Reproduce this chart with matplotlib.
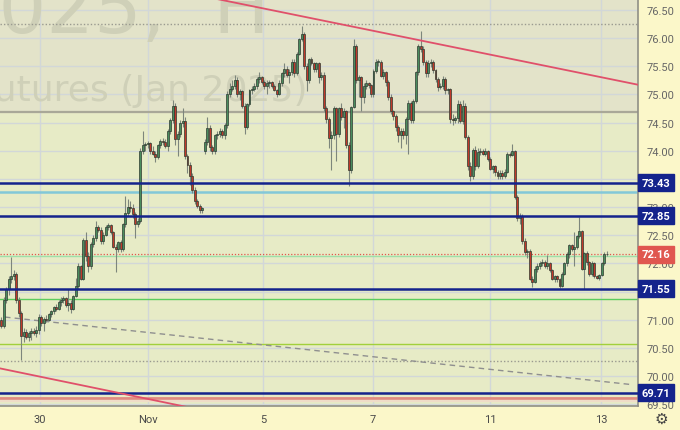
import matplotlib
matplotlib.use("Agg")
import matplotlib.pyplot as plt
import numpy as np

# ---------------- data ----------------
open_ = [71.00, 70.90, 71.35, 71.55, 71.73, 71.78, 71.82, 71.35, 71.12, 70.72,
         70.78, 70.70, 70.76, 70.80, 70.77, 70.82, 71.05, 70.95, 71.02, 71.00,
         71.10, 71.15, 71.23, 71.20, 71.32, 71.35, 71.38, 71.27, 71.30, 71.20,
         71.43, 71.60, 71.95, 71.73, 72.41, 72.14, 71.95, 72.35, 72.45, 72.65,
         72.60, 72.40,
         72.50, 72.65, 72.68, 72.55, 72.30, 72.25, 72.38, 72.25, 72.70, 72.90,
         73.00, 72.98, 72.88, 72.70, 72.75, 74.00, 74.10, 74.12, 74.14, 74.00,
         73.95, 73.88, 74.10, 74.17, 74.15, 74.08, 74.35, 74.55, 74.80, 74.20,
         74.30, 74.50, 74.52, 73.90, 73.75, 73.55, 73.30, 73.10, 73.02, 72.95,
         74.00, 74.15, 74.40, 74.07, 74.00, 74.27, 74.30, 74.35, 74.27, 74.45,
         75.00, 75.10, 75.15, 75.25, 75.00, 75.05, 74.80, 74.42, 74.83, 75.07,
         75.10, 75.15, 75.28, 75.30, 75.22, 75.15, 75.20, 75.22, 75.15, 75.08,
         75.00, 75.20, 75.37, 75.45, 75.35, 75.40, 75.58, 75.37, 75.72,
         75.98, 76.07, 75.50, 75.25, 75.63, 75.55, 75.45, 75.55, 75.30, 75.35,
         74.75, 74.57, 74.22, 74.27, 74.75, 74.30, 74.75, 74.60, 74.70, 74.10,
         73.65, 74.78, 75.86, 75.25, 75.30, 74.95, 75.15, 75.20, 75.17, 75.00,
         75.42, 75.57, 75.58, 75.33, 75.40, 75.22, 74.95, 74.70, 74.62, 74.42,
         74.27, 74.35, 74.27, 74.57, 74.85, 74.55, 74.88, 75.40, 75.86, 75.80,
         75.57, 75.37, 75.55, 75.57, 75.43, 75.28, 75.13, 75.15, 75.27, 75.07,
         75.10, 74.57, 74.55, 74.58, 74.83, 74.52, 74.80, 74.25, 73.73, 73.55,
         74.02, 73.73, 73.97, 74.00, 73.95, 74.00, 73.85, 73.68, 73.72, 73.62,
         73.55,
         73.60, 73.55, 73.63, 73.95, 73.92, 74.00, 73.18, 72.80, 72.85, 72.40,
         72.20, 72.22, 71.73, 71.68, 71.91, 71.96, 72.00, 72.03, 71.96, 72.00,
         71.88, 71.73, 71.77, 71.72, 71.60, 71.82, 72.00, 72.17, 72.32, 72.25,
         72.30, 72.48, 72.57, 71.90, 72.18, 72.03, 71.82, 72.00, 71.78, 71.75,
         71.80, 72.00, 72.17]
high = [71.05, 71.40, 71.58, 71.78, 72.12, 71.88, 71.85, 71.40, 71.15, 70.85,
        70.84, 70.80, 70.85, 70.86, 70.90, 71.10, 71.08, 71.05, 71.08, 71.12,
        71.18, 71.25, 71.28, 71.35, 71.40, 71.42, 71.40, 71.55, 71.35, 71.45,
        71.75, 72.00, 71.98, 72.45, 72.55, 72.20, 72.38, 72.50, 72.75, 72.68,
        72.65, 72.55,
        72.68, 72.72, 72.70, 72.58, 72.35, 72.40, 72.42, 72.72, 73.20, 73.15,
        73.10, 73.05, 72.92, 72.80, 74.05, 74.35, 74.15, 74.18, 74.15, 74.08,
        74.00, 74.12, 74.20, 74.22, 74.20, 74.38, 74.58, 74.90, 74.85, 74.35,
        74.55, 74.75, 74.60, 73.95, 73.80, 73.60, 73.35, 73.15, 73.05, 73.00,
        74.20, 74.60, 74.45, 74.10, 74.30, 74.35, 74.40, 74.38, 74.50, 75.05,
        75.20, 75.25, 75.35, 75.30, 75.10, 75.08, 74.85, 74.85, 75.10, 75.15,
        75.20, 75.30, 75.40, 75.32, 75.25, 75.25, 75.25, 75.24, 75.18, 75.10,
        75.25, 75.40, 75.55, 75.50, 75.45, 75.62, 75.62, 75.75, 76.00,
        76.22, 76.10, 75.55, 75.65, 75.66, 75.58, 75.58, 75.58, 75.40, 75.40,
        74.80, 74.60, 74.35, 74.80, 74.78, 74.78, 74.85, 74.75, 74.72, 74.15,
        74.80, 75.98, 75.90, 75.35, 75.32, 75.20, 75.25, 75.22, 75.18, 75.45,
        75.62, 75.62, 75.60, 75.45, 75.42, 75.25, 75.00, 74.72, 74.65, 74.45,
        74.40, 74.40, 74.60, 74.90, 74.88, 74.92, 75.42, 75.90, 76.12, 75.85,
        75.60, 75.60, 75.62, 75.60, 75.45, 75.30, 75.20, 75.32, 75.30, 75.12,
        75.12, 74.65, 74.62, 74.90, 74.88, 74.90, 74.85, 74.28, 73.80, 74.05,
        74.08, 74.05, 74.05, 74.03, 74.05, 74.02, 73.88, 73.75, 73.75, 73.65,
        73.65,
        73.65, 73.68, 73.98, 73.98, 74.12, 74.02, 73.22, 72.90, 72.88, 72.45,
        72.25, 72.25, 71.78, 71.95, 72.00, 72.05, 72.08, 72.06, 72.15, 72.02,
        71.90, 71.80, 71.80, 71.75, 71.85, 72.02, 72.20, 72.35, 72.35, 72.55,
        72.50, 72.82, 72.60, 72.20, 72.22, 72.05, 72.05, 72.02, 71.80, 71.82,
        72.02, 72.20, 72.22]
low = [70.85, 70.85, 71.30, 71.45, 71.65, 71.70, 71.30, 71.05, 70.28, 70.60,
       70.66, 70.62, 70.65, 70.74, 70.70, 70.75, 70.90, 70.80, 70.96, 70.98,
       71.05, 71.10, 71.16, 71.18, 71.25, 71.30, 71.22, 71.15, 71.12, 71.18,
       71.40, 71.55, 71.70, 71.70, 72.05, 71.85, 71.90, 72.30, 72.40, 72.55,
       72.35, 72.35,
       72.48, 72.60, 72.52, 72.28, 71.85, 72.20, 72.20, 72.22, 72.65, 72.85,
       72.92, 72.80, 72.45, 72.65, 72.72, 73.95, 74.00, 74.05, 73.95, 73.92,
       73.80, 73.85, 74.05, 74.10, 74.05, 74.00, 74.30, 74.50, 74.10, 73.90,
       74.25, 74.42, 73.85, 73.60, 73.40, 73.25, 73.05, 72.98, 72.90, 72.90,
       73.95, 74.10, 74.00, 73.95, 73.95, 74.20, 74.25, 74.22, 74.20, 74.40,
       74.95, 75.05, 75.10, 74.95, 74.90, 74.75, 74.30, 74.38, 74.80, 75.00,
       75.05, 75.10, 75.20, 75.18, 75.10, 75.00, 75.12, 75.12, 75.05, 74.95,
       74.98, 75.15, 75.30, 75.30, 75.20, 75.35, 75.30, 75.35, 75.70,
       75.95, 75.45, 75.05, 75.20, 75.52, 75.40, 75.40, 75.20, 75.25, 74.70,
       74.50, 74.05, 73.65, 74.20, 73.82, 74.25, 74.55, 74.40, 74.05, 73.37,
       73.60, 74.75, 75.20, 74.95, 74.70, 74.85, 75.10, 75.12, 74.95, 74.95,
       75.38, 75.50, 75.30, 75.28, 75.15, 74.90, 74.65, 74.55, 74.35, 74.15,
       74.05, 74.20, 74.12, 73.95, 74.50, 74.50, 74.85, 75.35, 75.75, 75.52,
       75.30, 75.30, 75.48, 75.38, 75.22, 75.05, 75.10, 75.10, 75.00, 75.00,
       74.50, 74.45, 74.50, 74.50, 74.50, 74.48, 74.20, 73.65, 73.47, 73.50,
       73.65, 73.70, 73.92, 73.92, 73.90, 73.82, 73.65, 73.60, 73.55, 73.50,
       73.50,
       73.50, 73.52, 73.60, 73.88, 73.90, 73.15, 72.75, 72.70, 72.35, 72.15,
       72.10, 71.70, 71.58, 71.65, 71.85, 71.90, 71.95, 71.92, 71.90, 71.85,
       71.70, 71.68, 71.68, 71.57, 71.58, 71.80, 71.95, 72.10, 72.22, 71.95,
       72.25, 72.45, 71.88, 71.55, 71.98, 71.78, 71.78, 71.75, 71.72, 71.70,
       71.78, 71.98, 72.14]
close = [70.90, 71.35, 71.55, 71.73, 71.78, 71.82, 71.35, 71.12, 70.72, 70.78,
         70.70, 70.76, 70.80, 70.77, 70.82, 71.05, 70.95, 71.02, 71.00, 71.10,
         71.15, 71.23, 71.20, 71.32, 71.35, 71.38, 71.27, 71.30, 71.20, 71.43,
         71.60, 71.95, 71.73, 72.41, 72.14, 71.95, 72.35, 72.45, 72.65, 72.60,
         72.40, 72.50,
         72.65, 72.68, 72.55, 72.30, 72.25, 72.38, 72.25, 72.70, 72.90, 73.00,
         72.98, 72.88, 72.70, 72.75, 74.00, 74.10, 74.12, 74.14, 74.00, 73.95,
         73.88, 74.10, 74.17, 74.15, 74.08, 74.35, 74.55, 74.80, 74.20, 74.30,
         74.50, 74.52, 73.90, 73.75, 73.55, 73.30, 73.10, 73.02, 72.95, 72.98,
         74.15, 74.40, 74.07, 74.00, 74.27, 74.30, 74.35, 74.27, 74.45, 75.00,
         75.10, 75.15, 75.25, 75.00, 75.05, 74.80, 74.42, 74.83, 75.07, 75.10,
         75.15, 75.28, 75.30, 75.22, 75.15, 75.20, 75.22, 75.15, 75.08, 75.00,
         75.20, 75.37, 75.45, 75.35, 75.40, 75.58, 75.37, 75.72, 75.98,
         76.07, 75.50, 75.25, 75.63, 75.55, 75.45, 75.55, 75.30, 75.35, 74.75,
         74.57, 74.22, 74.27, 74.75, 74.30, 74.75, 74.60, 74.70, 74.10, 73.65,
         74.78, 75.86, 75.25, 75.30, 74.95, 75.15, 75.20, 75.17, 75.00, 75.42,
         75.57, 75.58, 75.33, 75.40, 75.22, 74.95, 74.70, 74.62, 74.42, 74.27,
         74.35, 74.27, 74.57, 74.85, 74.55, 74.88, 75.40, 75.86, 75.80, 75.57,
         75.37, 75.55, 75.57, 75.43, 75.28, 75.13, 75.15, 75.27, 75.07, 75.10,
         74.57, 74.55, 74.58, 74.83, 74.52, 74.80, 74.25, 73.73, 73.55, 74.02,
         73.73, 73.97, 74.00, 73.95, 74.00, 73.85, 73.68, 73.72, 73.62, 73.55,
         73.60,
         73.55, 73.63, 73.95, 73.92, 74.00, 73.18, 72.80, 72.85, 72.40, 72.20,
         72.22, 71.73, 71.68, 71.91, 71.96, 72.00, 72.03, 71.96, 72.00, 71.88,
         71.73, 71.77, 71.72, 71.60, 71.82, 72.00, 72.17, 72.32, 72.25, 72.30,
         72.48, 72.57, 71.90, 72.18, 72.03, 71.82, 72.00, 71.78, 71.75, 71.80,
         72.00, 72.17, 72.16]

date_labels = ["30", "Nov", "5", "7", "11", "13"]
date_pos = [15.5, 58.9, 105.4, 149.8, 197.0, 241.7]   # candle index of each date line

price_ticks = [69.5, 70.0, 70.5, 71.0, 71.5, 72.0, 72.5, 73.0, 73.5, 74.0,
               74.5, 75.0, 75.5, 76.0, 76.5]
levels_blue = [73.43, 72.85, 71.55, 69.71]
level_cyan = 73.26
level_gray = 74.69
level_green = 71.37
level_lime = 70.57
level_dotted = [76.25, 70.27]
level_salmon = 69.615
last_price = 72.16

trend_upper = ([86.9, 256.65], [76.69, 75.17])
trend_lower = ([-0.6, 74.8], [70.14, 69.455])
trend_dashed = ([1.4, 254.6], [71.05, 69.85])

# ---------------- figure ----------------
W, H = 680, 431
fig = plt.figure(figsize=(W / 100, H / 100), dpi=100)
fig.patch.set_facecolor("#fbf7c9")
ax = fig.add_axes([0, 24 / H, 638 / W, 407 / H])
ax.set_facecolor("#e7ebc6")
ax.set_xlim(-0.6, 256.65)
ax.set_ylim(69.473, 76.69)

# upper tinted zone
ax.axhspan(level_gray, 77, color="#e3e3c9", zorder=0)

# grid
for p in price_ticks:
    ax.axhline(p, color="#d2d7d8", lw=1.0, zorder=1)
for d in date_pos:
    ax.axvline(d, color="#d2d7d8", lw=1.0, zorder=1)

# watermark
ax.text(270 / 638, (407 - 33) / 407, "BRNF2025,  H", transform=ax.transAxes,
        ha="right", va="baseline", fontsize=54, color="#cfd0b8",
        family="DejaVu Sans", clip_on=True, zorder=1.5)
ax.text(308 / 638, (407 - 101) / 407, "Brent Crude Oil Futures (Jan 2025)",
        transform=ax.transAxes, ha="right", va="baseline", fontsize=26,
        color="#cfd0b8", family="DejaVu Sans", clip_on=True, zorder=1.5)

# horizontal levels
ax.axhline(level_gray, color="#a9a898", lw=1.6, zorder=2)
ax.axhline(level_cyan, color="#82c8d8", lw=1.8, zorder=2)
ax.axhline(level_green, color="#5ccc5c", lw=1.0, zorder=2)
ax.axhline(level_lime, color="#a2d03c", lw=1.0, zorder=2)
for lv in level_dotted:
    ax.axhline(lv, color="#9a9a90", lw=1.0, ls=(0, (1, 1.5)), zorder=2)
ax.axhline(level_salmon, color="#e08a80", lw=2.0, zorder=2)
ax.axhline(69.555, color="#efdcc8", lw=1.6, zorder=2)
ax.axhline(last_price - 0.02, color="#9ee0a8", lw=1.0, zorder=2)
ax.axhline(last_price, color="#e0584e", lw=0.9, ls=(0, (1, 1.5)), zorder=2)
for lv in levels_blue:
    ax.axhline(lv, color="#14238c", lw=1.8, zorder=4)

# trend lines
ax.plot(*trend_dashed, color="#8f8f8f", lw=1.0, ls=(0, (4, 3)), zorder=2)
ax.plot(*trend_upper, color="#e0506a", lw=1.3, zorder=5)
ax.plot(*trend_lower, color="#e0506a", lw=1.3, zorder=5)

# candles
o = np.array(open_); h = np.array(high); l = np.array(low); c = np.array(close)
idx = np.arange(len(c))
ax.vlines(idx, l, h, color="#7d867c", lw=0.8, zorder=3)
up = c >= o
cols = np.where(up, "#4a8c5e", "#c0392b")
bottoms = np.minimum(o, c)
heights = np.maximum(np.abs(c - o), 0.015)
ax.bar(idx, heights, bottom=bottoms, width=0.8, color=cols,
       edgecolor="#2e3a30", linewidth=0.5, zorder=3.5)

# spines and axes
for s in ["top", "left"]:
    ax.spines[s].set_visible(False)
for s in ["right", "bottom"]:
    ax.spines[s].set_color("#8f8f86")
    ax.spines[s].set_linewidth(1.2)

ax.yaxis.tick_right()
ax.set_yticks(price_ticks)
ax.set_yticklabels([f"{p:.2f}" for p in price_ticks], family="Roboto")
ax.tick_params(axis="y", length=0, pad=6, labelsize=8, labelcolor="#666666")
ax.set_xticks(date_pos)
ax.set_xticklabels(date_labels, family="Roboto")
ax.tick_params(axis="x", length=0, pad=6, labelsize=8, labelcolor="#4a4a4a")

# price badges
def badge(val, color):
    ax.text(1.0 + 4 / 638, val, f"{val:.2f}", transform=ax.get_yaxis_transform(),
            ha="left", va="center", fontsize=8, color="white",
            fontweight="bold", family="Roboto", clip_on=False, zorder=10,
            bbox=dict(boxstyle="square,pad=0.32", facecolor=color,
                      edgecolor=color))

for lv in levels_blue:
    badge(lv, "#14238c")
badge(last_price, "#e0574f")

# settings icon
fig.text(661 / W, 12 / H, "\u2699", ha="center", va="center", fontsize=11,
         color="#444444", family="DejaVu Sans")

fig.savefig("out.png", dpi=100, facecolor=fig.get_facecolor())
